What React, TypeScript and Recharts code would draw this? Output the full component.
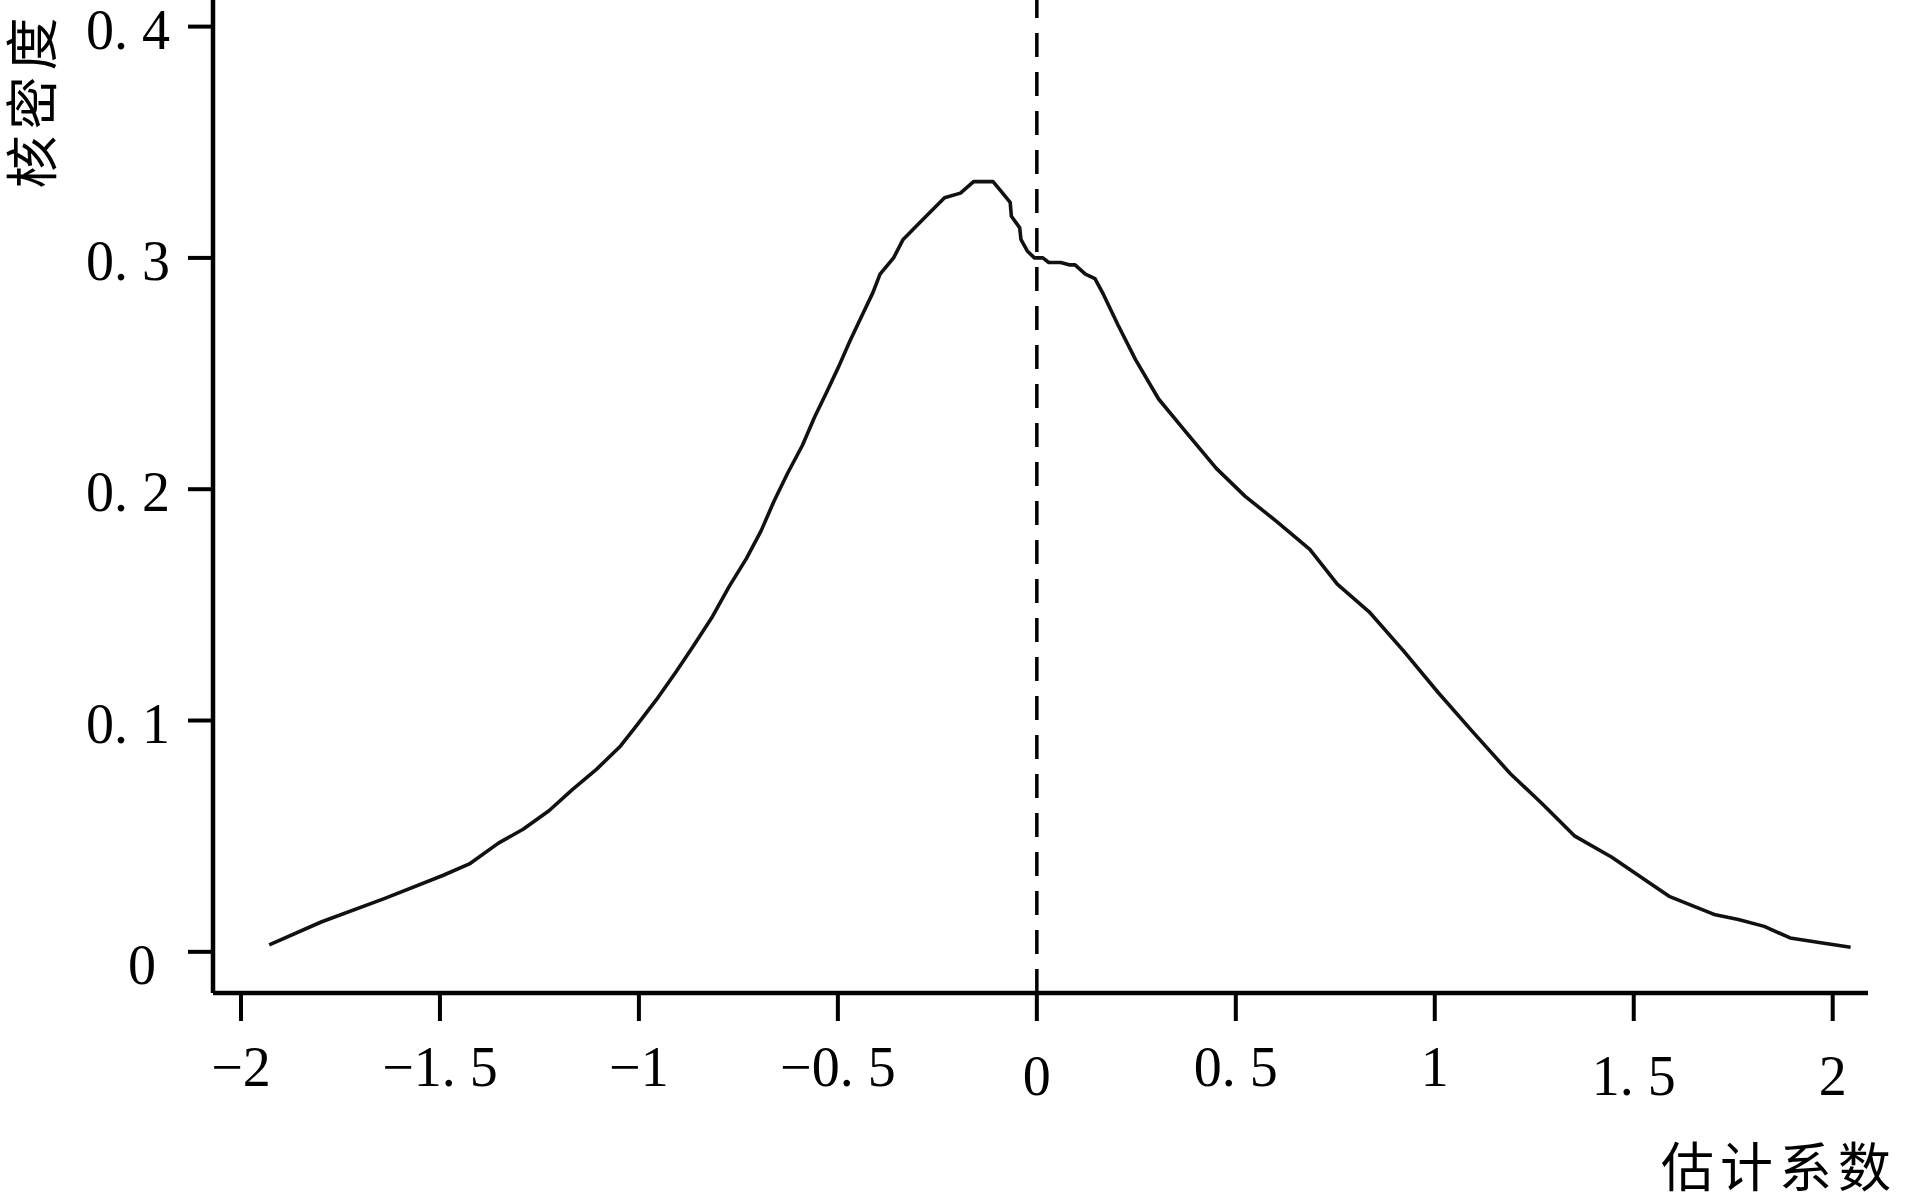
import React from 'react';
import { LineChart, Line, XAxis, YAxis, ReferenceLine } from 'recharts';

// estimated coefficient (x) and kernel density (y)
const coef = [
  -1.929, -1.797, -1.64, -1.493, -1.426, -1.353, -1.291, -1.226, -1.168, -1.106,
  -1.046, -1.005, -0.956, -0.907, -0.864, -0.815, -0.773, -0.73, -0.693, -0.66,
  -0.626, -0.589, -0.559, -0.528, -0.498, -0.47, -0.437, -0.412, -0.394, -0.36,
  -0.336, -0.284, -0.232, -0.192, -0.159, -0.11, -0.086, -0.067, -0.064, -0.043,
  -0.04, -0.024, -0.006, 0.015, 0.03, 0.06, 0.081, 0.096, 0.122, 0.146,
  0.168, 0.204, 0.248, 0.306, 0.378, 0.451, 0.523, 0.603, 0.686, 0.755,
  0.835, 0.922, 1.009, 1.096, 1.19, 1.27, 1.352, 1.444, 1.538, 1.589,
  1.647, 1.705, 1.763, 1.828, 1.893, 1.966, 2.045,
];
const density = [
  0.003, 0.013, 0.023, 0.033, 0.038, 0.047, 0.053, 0.061, 0.07, 0.079,
  0.089, 0.098, 0.109, 0.121, 0.132, 0.145, 0.158, 0.17, 0.182, 0.195,
  0.207, 0.219, 0.231, 0.242, 0.253, 0.264, 0.276, 0.285, 0.293, 0.3,
  0.308, 0.317, 0.326, 0.328, 0.333, 0.333, 0.328, 0.324, 0.318, 0.313,
  0.308, 0.303, 0.3, 0.3, 0.298, 0.298, 0.297, 0.297, 0.293, 0.291,
  0.284, 0.271, 0.256, 0.239, 0.224, 0.209, 0.197, 0.186, 0.174, 0.159,
  0.147, 0.13, 0.112, 0.095, 0.077, 0.064, 0.05, 0.041, 0.03, 0.024,
  0.02, 0.016, 0.014, 0.011, 0.006, 0.004, 0.002,
];
const xTicks = [-2, -1.5, -1, -0.5, 0, 0.5, 1, 1.5, 2];
const yTicks = [0, 0.1, 0.2, 0.3, 0.4];

const data = coef.map((c, i) => ({ coef: c, density: density[i] }));

const SERIF = '"Liberation Serif", "Times New Roman", serif';
const CJK = '"Noto Sans CJK SC", sans-serif';

// "0. 4" / "−1. 5" style used in the original figure
function fmt(v: number) {
  const sign = v < 0 ? '\u2212' : '';
  const [i, f] = Math.abs(v).toString().split('.');
  return f ? `${sign}${i}. ${f}` : `${sign}${i}`;
}

function XTick(props: any) {
  const { x, y, payload } = props;
  const v = payload.value;
  const low = v === 0 || v === 1.5 || v === 2 ? 9 : 0;
  return (
    <text
      x={x}
      y={y + 46 + low}
      textAnchor="middle"
      dominantBaseline="central"
      fontFamily={SERIF}
      fontSize={56}
      fill="#000"
      style={{ whiteSpace: 'pre' }}
    >
      {fmt(v)}
    </text>
  );
}

function YTick(props: any) {
  const { x, y, payload } = props;
  const v = payload.value;
  const zero = v === 0;
  return (
    <text
      x={x - (zero ? 14 : 0)}
      y={y + 3 + (zero ? 10 : 0)}
      textAnchor="end"
      dominantBaseline="central"
      fontFamily={SERIF}
      fontSize={56}
      fill="#000"
      style={{ whiteSpace: 'pre' }}
    >
      {fmt(v)}
    </text>
  );
}

export default function App() {
  return (
    <div style={{ position: 'absolute', left: 0, top: 0, width: 1906, height: 1196, background: '#fff' }}>
      <LineChart
        width={1906}
        height={1196}
        data={data}
        margin={{ top: 0, right: 38, bottom: 0, left: 0 }}
      >
        <XAxis
          dataKey="coef"
          type="number"
          domain={[-2.0703, 2.0887]}
          allowDataOverflow
          ticks={xTicks}
          height={203}
          tickSize={28}
          tickMargin={0}
          axisLine={{ stroke: '#000', strokeWidth: 4.5 }}
          tickLine={{ stroke: '#000', strokeWidth: 4 }}
          tick={<XTick />}
          label={{
            content: () => (
              <text
                x={1661}
                y={1164}
                dominantBaseline="central"
                fontFamily={CJK}
                fontSize={53}
                letterSpacing={6}
                fill="#000"
              >
                估计系数
              </text>
            ),
          }}
        />
        <YAxis
          type="number"
          domain={[-0.0178, 0.4115]}
          allowDataOverflow
          ticks={yTicks}
          width={213}
          tickSize={25}
          tickMargin={18}
          axisLine={{ stroke: '#000', strokeWidth: 4.5 }}
          tickLine={{ stroke: '#000', strokeWidth: 4 }}
          tick={<YTick />}
          label={{
            content: () => (
              <text
                x={29}
                y={100}
                transform="rotate(-90, 29, 100)"
                textAnchor="middle"
                dominantBaseline="central"
                fontFamily={CJK}
                fontSize={53}
                letterSpacing={6}
                fill="#000"
              >
                核密度
              </text>
            ),
          }}
        />
        <ReferenceLine x={0} stroke="#000" strokeWidth={3.5} strokeDasharray="24 15" />
        <Line
          type="linear"
          dataKey="density"
          stroke="#111"
          strokeWidth={3.6}
          strokeLinejoin="round"
          dot={false}
          activeDot={false}
          isAnimationActive={false}
        />
      </LineChart>
    </div>
  );
}
